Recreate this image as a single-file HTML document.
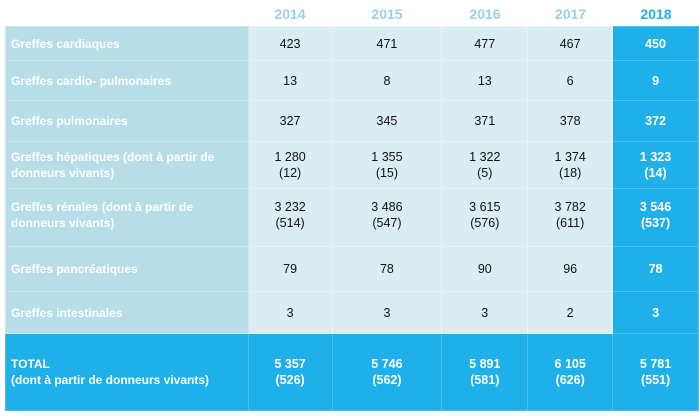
<!DOCTYPE html>
<html><head><style>
body{margin:0;width:699px;height:417px;background:#fff;font-family:"Liberation Sans",sans-serif;position:relative;overflow:hidden}
.h{position:absolute;top:6px;font-weight:bold;font-size:14px;color:#9dcfe0;text-align:center}
table{position:absolute;left:5px;top:26px;border-collapse:collapse;table-layout:fixed}
td{padding:0;text-align:center;font-size:12.5px;color:#111;background:#daedf3;border:1px solid #e9f4f8;line-height:16px}
td.l{text-align:left;padding-left:5px;background:#b7dde6;color:#fff;font-weight:bold;font-size:12px;border-color:#cde8ef}
td.b{background:#1fb0ea;color:#fff;border-color:#4cc0ee;font-weight:bold}
tr.t td{background:#1fb0ea;color:#fff;border-color:#4cc0ee;font-weight:bold}
tr.t td.l{background:#1fb0ea}
</style></head><body>
<div class="h" style="left:248px;width:84px">2014</div>
<div class="h" style="left:332px;width:110px">2015</div>
<div class="h" style="left:442px;width:86px">2016</div>
<div class="h" style="left:528px;width:85px">2017</div>
<div class="h" style="left:613px;width:86px;color:#1fb0ea">2018</div>
<table>
<colgroup><col style="width:243px"><col style="width:84px"><col style="width:110px"><col style="width:86px"><col style="width:85px"><col style="width:86px"></colgroup>
<tr style="height:34px"><td class="l">Greffes cardiaques</td><td>423</td><td>471</td><td>477</td><td>467</td><td class="b">450</td></tr>
<tr style="height:40px"><td class="l">Greffes cardio- pulmonaires</td><td>13</td><td>8</td><td>13</td><td>6</td><td class="b">9</td></tr>
<tr style="height:41px"><td class="l">Greffes pulmonaires</td><td>327</td><td>345</td><td>371</td><td>378</td><td class="b">372</td></tr>
<tr style="height:47px"><td class="l">Greffes hépatiques (dont à partir de donneurs vivants)</td><td>1 280<br>(12)</td><td>1 355<br>(15)</td><td>1 322<br>(5)</td><td>1 374<br>(18)</td><td class="b">1 323<br>(14)</td></tr>
<tr style="height:58px"><td class="l" style="vertical-align:top;padding-top:10px">Greffes rénales (dont à partir de donneurs vivants)</td><td style="vertical-align:top;padding-top:10px">3 232<br>(514)</td><td style="vertical-align:top;padding-top:10px">3 486<br>(547)</td><td style="vertical-align:top;padding-top:10px">3 615<br>(576)</td><td style="vertical-align:top;padding-top:10px">3 782<br>(611)</td><td class="b" style="vertical-align:top;padding-top:10px">3 546<br>(537)</td></tr>
<tr style="height:45px"><td class="l">Greffes pancréatiques</td><td>79</td><td>78</td><td>90</td><td>96</td><td class="b">78</td></tr>
<tr style="height:42px"><td class="l">Greffes intestinales</td><td>3</td><td>3</td><td>3</td><td>2</td><td class="b">3</td></tr>
<tr class="t" style="height:77px"><td class="l">TOTAL<br>(dont à partir de donneurs vivants)</td><td>5 357<br>(526)</td><td>5 746<br>(562)</td><td>5 891<br>(581)</td><td>6 105<br>(626)</td><td>5 781<br>(551)</td></tr>
</table>
</body></html>
